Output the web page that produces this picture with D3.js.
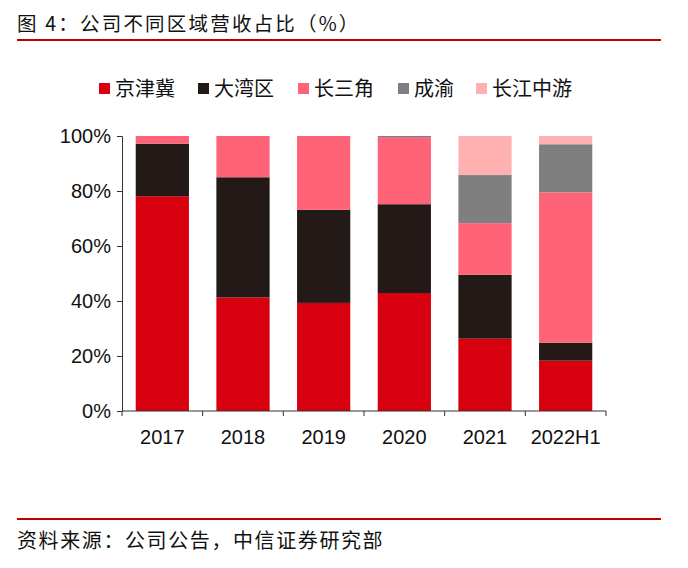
<!DOCTYPE html>
<html><head><meta charset="utf-8">
<script src="https://cdn.jsdelivr.net/npm/d3@7"></script>
<style>body{margin:0;background:#fff;} svg{display:block;}</style>
</head><body>
<svg id="c" width="688" height="568"></svg>
<script>
const categories = ["2017","2018","2019","2020","2021","2022H1"];
const seriesNames = ["京津冀","大湾区","长三角","成渝","长江中游"];
const colors = ["#d7000f","#231916","#ff6378","#7f7f7f","#ffb0b0"];
const jingjinji = [78.1, 41.3, 39.3, 42.9, 26.3, 18.3];
const dawanqu   = [19.1, 43.7, 33.9, 32.3, 23.2, 6.5];
const changsanjiao = [2.8, 15.0, 26.8, 24.4, 18.8, 54.7];
const chengyu   = [0, 0, 0, 0.4, 17.5, 17.5];
const changjiang = [0, 0, 0, 0, 14.2, 3.0];
const yTicks = [0,20,40,60,80,100];

const seriesValues = [jingjinji, dawanqu, changsanjiao, chengyu, changjiang];
const rows = categories.map((c,i)=>{const r={cat:c}; seriesNames.forEach((s,j)=>r[s]=seriesValues[j][i]); return r;});
const stack = d3.stack().keys(seriesNames)(rows);

const svg = d3.select("#c");
const font = "'Noto Sans CJK SC', sans-serif";
const numFont = "'Liberation Sans', Arial, sans-serif";

// title
svg.append("text").attr("x",17).attr("y",31).attr("font-family",font).attr("font-size",19.5)
  .attr("letter-spacing",2.2).attr("fill","#111").text("图 4：公司不同区域营收占比（%）");
svg.append("line").attr("x1",17).attr("x2",661).attr("y1",40).attr("y2",40).attr("stroke","#c00000").attr("stroke-width",2);

// footer
svg.append("line").attr("x1",17).attr("x2",661).attr("y1",519).attr("y2",519).attr("stroke","#c00000").attr("stroke-width",2);
svg.append("text").attr("x",17).attr("y",548).attr("font-family",font).attr("font-size",20)
  .attr("letter-spacing",1.6).attr("fill","#111").text("资料来源：公司公告，中信证券研究部");

const x = d3.scaleBand().domain(categories).range([122,606]).paddingInner(0.34).paddingOuter(0.17);
const y = d3.scaleLinear().domain([0,100]).range([411,136]);

const g = svg.append("g");
g.selectAll("g.s").data(stack).join("g").attr("fill",(d,i)=>colors[i])
  .selectAll("rect").data(d=>d).join("rect")
  .attr("x",d=>x(d.data.cat)).attr("width",x.bandwidth())
  .attr("y",d=>y(d[1])).attr("height",d=>Math.max(0,y(d[0])-y(d[1])));

// y axis
const ya = svg.append("g").attr("transform","translate(122,0)")
  .call(d3.axisLeft(y).tickValues(yTicks).tickFormat(d=>d+"%").tickSize(5).tickPadding(6));
ya.select(".domain").attr("stroke","#333");
ya.selectAll(".tick line").attr("stroke","#333");
ya.selectAll("text").attr("font-family",numFont).attr("font-size",20).attr("fill","#111");

// x axis
const xa = svg.append("g").attr("transform","translate(0,411)");
xa.append("line").attr("x1",122).attr("x2",606).attr("stroke","#333");
const bounds = d3.range(categories.length+1).map(i=>122+i*(606-122)/categories.length);
xa.selectAll("line.t").data(bounds).join("line").attr("class","t")
  .attr("x1",d=>d).attr("x2",d=>d).attr("y1",0).attr("y2",5).attr("stroke","#333");
xa.selectAll("text").data(categories).join("text")
  .attr("x",d=>x(d)+x.bandwidth()/2).attr("y",33).attr("text-anchor","middle")
  .attr("font-family",numFont).attr("font-size",20).attr("fill","#111").text(d=>d);

// legend
const legX = [99,198,298,398,476];
const lg = svg.append("g");
seriesNames.forEach((s,i)=>{
  lg.append("rect").attr("x",legX[i]).attr("y",83).attr("width",11).attr("height",11).attr("fill",colors[i]);
  lg.append("text").attr("x",legX[i]+16).attr("y",96).attr("font-family",font).attr("font-size",20)
    .attr("fill","#111").text(s);
});
</script>
</body></html>
